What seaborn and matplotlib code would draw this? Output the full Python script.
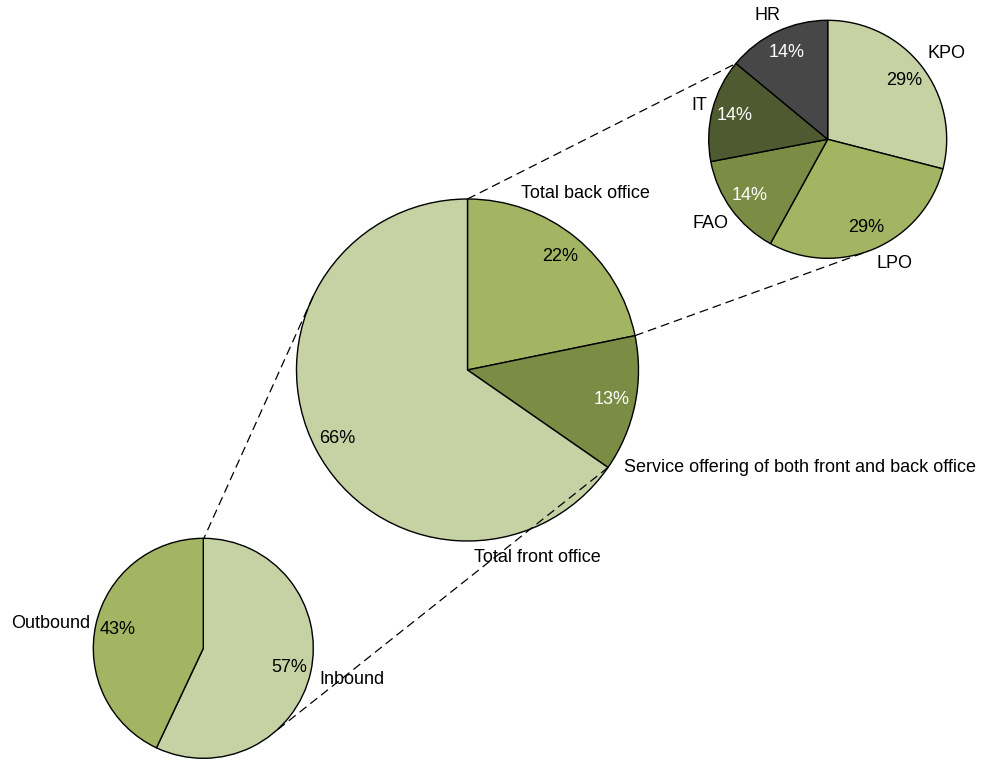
import matplotlib
matplotlib.use("Agg")
import matplotlib.pyplot as plt
import numpy as np
import seaborn as sns

# ---- data -------------------------------------------------------------
main_labels = ["Total back office", "Service offering of both front and back office", "Total front office"]
main_values = [22, 13, 66]

back_labels = ["KPO", "LPO", "FAO", "IT", "HR"]
back_values = [29, 29, 14, 14, 14]

front_labels = ["Inbound", "Outbound"]
front_values = [57, 43]

# ---- style ------------------------------------------------------------
sns.set_theme(style="white")
plt.rcParams["font.family"] = ["Liberation Sans", "DejaVu Sans"]

LIGHT = "#c6d2a3"
MID = "#a3b563"
OLIVE = "#7b8c45"
DARK = "#4f5a30"
GREY = "#474747"

main_colors = [MID, OLIVE, LIGHT]
main_text = ["black", "white", "black"]
back_colors = [LIGHT, MID, OLIVE, DARK, GREY]
back_text = ["black", "black", "white", "white", "white"]
front_colors = [LIGHT, MID]
front_text = ["black", "black"]

W, H = 982, 760
fig = plt.figure(figsize=(W / 100, H / 100), dpi=100)
ax = fig.add_axes([0, 0, 1, 1])


def px(x, y):
    """Pixel-style layout position (origin top-left) -> axes data coords."""
    return (x, H - y)


FS = 13

pies = {
    "main": dict(center=px(467.5, 370), radius=171),
    "back": dict(center=px(827.7, 139.3), radius=119),
    "front": dict(center=px(203.3, 648.3), radius=110),
}


def draw_pie(key, values, colors, text_colors, pct_dist):
    spec = pies[key]
    wedges, _ = ax.pie(values, colors=colors, startangle=90, counterclock=False,
                       center=spec["center"], radius=spec["radius"],
                       wedgeprops=dict(edgecolor="black", linewidth=1.0))
    cx, cy = spec["center"]
    r = spec["radius"]
    for w, v, tc in zip(wedges, values, text_colors):
        mid = np.deg2rad((w.theta1 + w.theta2) / 2)
        ax.text(cx + pct_dist * r * np.cos(mid), cy + pct_dist * r * np.sin(mid),
                f"{v}%", ha="center", va="center", fontsize=FS, color=tc)
    return wedges


draw_pie("main", main_values, main_colors, main_text, 0.86)
draw_pie("back", back_values, back_colors, back_text, 0.81)
draw_pie("front", front_values, front_colors, front_text, 0.80)


def rim(key, clock_deg):
    """Point on a pie's rim, angle measured clockwise from 12 o'clock."""
    spec = pies[key]
    cx, cy = spec["center"]
    a = np.deg2rad(clock_deg)
    return cx + spec["radius"] * np.sin(a), cy + spec["radius"] * np.cos(a)


def boundary(values, i):
    """Clockwise angle of the edge after slice i."""
    return 360.0 * sum(values[: i + 1]) / sum(values)


connectors = [
    (("main", 0.0), ("back", boundary(back_values, 3))),
    (("main", boundary(main_values, 0)), ("back", 160.0)),
    (("main", 295.4), ("front", 0.3)),
    (("main", boundary(main_values, 1)), ("front", 139.3)),
]
for (k1, a1), (k2, a2) in connectors:
    x1, y1 = rim(k1, a1)
    x2, y2 = rim(k2, a2)
    ax.plot([x1, x2], [y1, y2], color="black", lw=0.9,
            linestyle=(0, (7, 4)), zorder=5)

# ---- category labels ----------------------------------------------------
cat_pos = {
    "Total back office": (585, 193, "center"),
    "Service offering of both front and back office": (624, 467, "left"),
    "Total front office": (537, 557, "center"),
    "HR": (768, 15, "center"),
    "KPO": (947, 54, "center"),
    "IT": (699, 105, "center"),
    "FAO": (711, 224, "center"),
    "LPO": (895, 263, "center"),
    "Outbound": (11, 623, "left"),
    "Inbound": (319, 679, "left"),
}
for name in main_labels + back_labels + front_labels:
    x, y, ha = cat_pos[name]
    ax.text(*px(x, y), name, ha=ha, va="center", fontsize=FS, color="black")

ax.set_xlim(0, W)
ax.set_ylim(0, H)
ax.set_aspect("equal")
ax.axis("off")

fig.savefig("out.png", dpi=100, facecolor="white")
